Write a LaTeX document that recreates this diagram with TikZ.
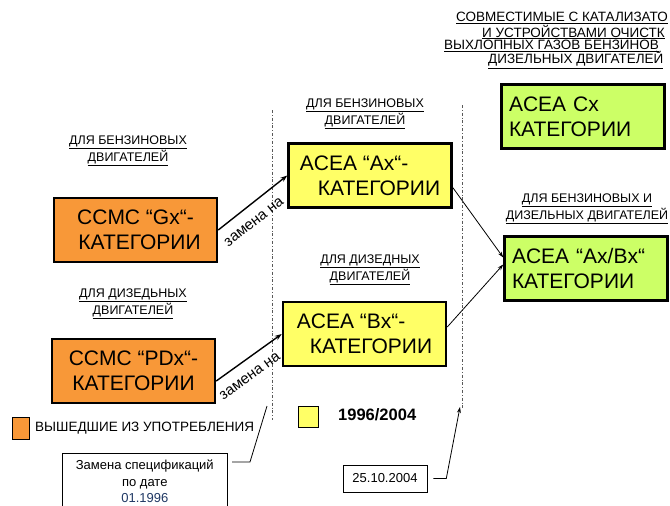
\documentclass[tikz,border=0pt]{standalone}
\usepackage{fontspec}
\setmainfont{Liberation Sans}
\usetikzlibrary{arrows.meta}
\definecolor{oldfill}{RGB}{248,152,56}
\definecolor{newfill}{RGB}{255,255,102}
\definecolor{bothfill}{RGB}{204,255,102}
\definecolor{datecol}{RGB}{31,56,100}
\tikzset{
  catbox/.style={draw, line width=2.5pt, minimum width=163pt, minimum height=64pt,
    font=\fontsize{21}{25}\selectfont, inner sep=0pt},
  oldbox/.style={catbox, fill=oldfill, align=center},
  newbox/.style={catbox, fill=newfill, align=left},
  bothbox/.style={catbox, fill=bothfill, align=left, text width=148pt},
  note/.style={font=\fontsize{12.5}{14}\selectfont, align=center, inner sep=0pt},
  topnote/.style={note, anchor=west, font=\fontsize{13.5}{14}\selectfont},
  datebox/.style={draw, line width=0.6pt, font=\fontsize{13}{16.5}\selectfont, align=center},
  timeline/.style={line width=0.7pt, gray!70!black, dash dot},
  swap/.style={-{Stealth[length=7pt,width=5pt]}, line width=1.4pt},
  swaplabel/.style={inner sep=0pt, font=\fontsize{15}{16}\selectfont},
  merge/.style={-{Stealth[length=6pt,width=4pt]}, line width=0.8pt}
}
\begin{document}
\begin{tikzpicture}[x=1pt,y=-1pt]
    \useasboundingbox (0,0) rectangle (670,506);
    \clip (0,0) rectangle (670,506);
    % boxes
    \node [oldbox] (gx) at (135.5,230) {CCMC “Gx“-\\\hspace*{8pt}КАТЕГОРИИ};
    \node [oldbox] (pdx) at (133.5,371) {CCMC “PDx“-\\КАТЕГОРИИ};
    \node [newbox] (ax) at (370,175.5) {ACEA “Ax“-\\\hspace*{18pt}КАТЕГОРИИ};
    \node [newbox] (bx) at (364.5,334) {ACEA “Bx“-\\\hspace*{13pt}КАТЕГОРИИ};
    \node [bothbox] (axbx) at (586,268.5) {ACEA “Ax/Bx“\\КАТЕГОРИИ};
    \node [bothbox] (cx) at (583,116.5) {ACEA Cx\\КАТЕГОРИИ};
    % headings
    \node [note] (h1) at (128,151) {\underline{ДЛЯ БЕНЗИНОВЫХ}\\\underline{ДВИГАТЕЛЕЙ}};
    \node [note] (h2) at (133,304) {\underline{ДЛЯ ДИЗЕДЬНЫХ}\\\underline{ДВИГАТЕЛЕЙ}};
    \node [note] (h3) at (365,114) {\underline{ДЛЯ БЕНЗИНОВЫХ}\\\underline{ДВИГАТЕЛЕЙ}};
    \node [note] (h4) at (370,270) {\underline{ДЛЯ ДИЗЕДНЫХ}\\\underline{ДВИГАТЕЛЕЙ}};
    \node [note] (h5) at (587,208.5) {\underline{ДЛЯ БЕНЗИНОВЫХ И}\\\underline{ДИЗЕЛЬНЫХ ДВИГАТЕЛЕЙ}};
    \node [topnote] (t1) at (456,18) {\underline{СОВМЕСТИМЫЕ С КАТАЛИЗАТО}};
    \node [topnote] (t2) at (482,32) {\underline{И УСТРОЙСТВАМИ ОЧИСТК}};
    \node [topnote] (t3) at (444,46) {\underline{ВЫХЛОПНЫХ ГАЗОВ БЕНЗИНОВ}};
    \node [topnote] (t4) at (488,60) {\underline{ДИЗЕЛЬНЫХ ДВИГАТЕЛЕЙ}};
    % legend
    \node [draw, fill=oldfill, minimum width=17pt, minimum height=22pt, inner sep=0pt] (lold) at (20.5,428) {};
    \node [anchor=west, font=\fontsize{13.5}{16}\selectfont, inner sep=0pt] (lotxt) at (35,428) {ВЫШЕДШИЕ ИЗ УПОТРЕБЛЕНИЯ};
    \node [draw, fill=newfill, minimum width=20pt, minimum height=21pt, inner sep=0pt] (lnew) at (308,416.5) {};
    \node [anchor=west, font=\bfseries\fontsize{16.5}{18}\selectfont, inner sep=0pt] (lntxt) at (338,415) {1996/2004};
    % time lines
    \draw [timeline] (272,110) -- (272,420);
    \draw [timeline] (462,105) -- (462,408);
    \coordinate (end1) at (267,406);
    \coordinate (end2) at (460,407);
    % dates
    \node [datebox, minimum width=165pt, minimum height=56pt, anchor=north west] (date1) at (62,453)
        {Замена спецификаций\\по дате\\\textcolor{datecol}{01.1996}};
    \node [datebox, minimum width=84pt, minimum height=27pt] (date2) at (385,478.5) {25.10.2004};
    % arrows
    \draw [swap] (gx.east) -- (ax.west);
    \draw [swap] ([yshift=-10pt]pdx.east) -- (bx.west);
    \node [swaplabel, rotate=38] (sw1) at (254,222) {замена на};
    \node [swaplabel, rotate=36] (sw2) at (250,376) {замена на};
    \draw [merge] ([yshift=-12pt]ax.east) -- ([yshift=11pt]axbx.west);
    \draw [merge] ([yshift=7pt]bx.east) -- ([yshift=4pt]axbx.west);
    \draw [line width=0.8pt] (232,462) -- (250,462) -- (end1);
    \draw [merge] (date2.east) ++(6pt,0) -- ++(13,0) -- (end2);
\end{tikzpicture}
\end{document}
